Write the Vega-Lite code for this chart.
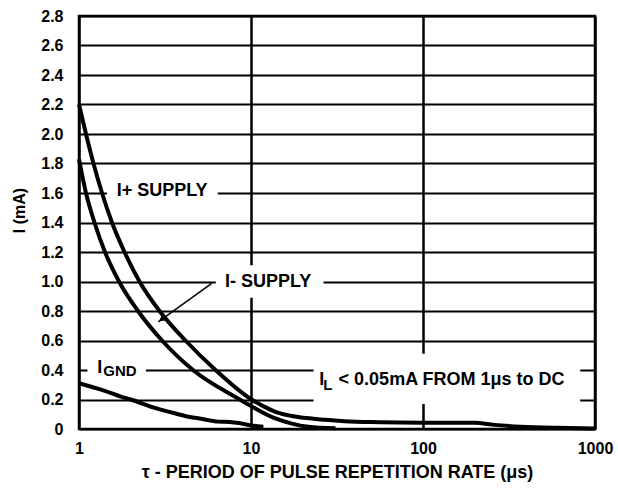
{
  "$schema": "https://vega.github.io/schema/vega-lite/v6.json",
  "width": 516,
  "height": 413,
  "autosize": {"type": "none"},
  "padding": {"left": 79, "top": 16, "right": 23, "bottom": 62},
  "background": "white",
  "config": {"view": {"stroke": "black", "strokeWidth": 2.5}, "font": "Liberation Sans"},
  "datasets": {
    "curves": [
      {"series": "I+", "x": 1, "y": 2.2},
      {"series": "I+", "x": 1.098, "y": 2.0},
      {"series": "I+", "x": 1.214, "y": 1.8},
      {"series": "I+", "x": 1.361, "y": 1.6},
      {"series": "I+", "x": 1.555, "y": 1.4},
      {"series": "I+", "x": 1.839, "y": 1.2},
      {"series": "I+", "x": 2.247, "y": 1.0},
      {"series": "I+", "x": 2.938, "y": 0.8},
      {"series": "I+", "x": 4.16, "y": 0.6},
      {"series": "I+", "x": 6.22, "y": 0.4},
      {"series": "I+", "x": 10.07, "y": 0.2},
      {"series": "I+", "x": 12, "y": 0.15},
      {"series": "I+", "x": 14, "y": 0.115},
      {"series": "I+", "x": 17, "y": 0.09},
      {"series": "I+", "x": 21, "y": 0.074},
      {"series": "I+", "x": 27, "y": 0.062},
      {"series": "I+", "x": 35, "y": 0.053},
      {"series": "I+", "x": 50, "y": 0.047},
      {"series": "I+", "x": 100, "y": 0.043},
      {"series": "I+", "x": 200, "y": 0.042},
      {"series": "I+", "x": 260, "y": 0.028},
      {"series": "I+", "x": 370, "y": 0.016},
      {"series": "I+", "x": 600, "y": 0.008},
      {"series": "I+", "x": 1000, "y": 0.004},
      {"series": "I-", "x": 1, "y": 1.83},
      {"series": "I-", "x": 1.098, "y": 1.6},
      {"series": "I-", "x": 1.23, "y": 1.4},
      {"series": "I-", "x": 1.416, "y": 1.2},
      {"series": "I-", "x": 1.709, "y": 1.0},
      {"series": "I-", "x": 2.203, "y": 0.8},
      {"series": "I-", "x": 3.038, "y": 0.6},
      {"series": "I-", "x": 4.6, "y": 0.4},
      {"series": "I-", "x": 8.6, "y": 0.2},
      {"series": "I-", "x": 10.2, "y": 0.15},
      {"series": "I-", "x": 13.6, "y": 0.075},
      {"series": "I-", "x": 17.5, "y": 0.035},
      {"series": "I-", "x": 21.5, "y": 0.016},
      {"series": "I-", "x": 31, "y": 0.005},
      {"series": "IGND", "x": 1, "y": 0.31},
      {"series": "IGND", "x": 1.4, "y": 0.26},
      {"series": "IGND", "x": 1.75, "y": 0.22},
      {"series": "IGND", "x": 2.0, "y": 0.2},
      {"series": "IGND", "x": 2.73, "y": 0.145},
      {"series": "IGND", "x": 3.5, "y": 0.11},
      {"series": "IGND", "x": 4.26, "y": 0.085},
      {"series": "IGND", "x": 5.2, "y": 0.068},
      {"series": "IGND", "x": 6.0, "y": 0.055},
      {"series": "IGND", "x": 6.5, "y": 0.05},
      {"series": "IGND", "x": 7.5, "y": 0.047},
      {"series": "IGND", "x": 8.5, "y": 0.04},
      {"series": "IGND", "x": 10, "y": 0.024},
      {"series": "IGND", "x": 11.8, "y": 0.015}
    ],
    "boxes": [
      {"x": 1.454, "x2": 6.41, "y": 1.5, "y2": 1.7},
      {"x": 6.24, "x2": 26.4, "y": 0.89, "y2": 1.11},
      {"x": 1.12, "x2": 2.45, "y": 0.32, "y2": 0.48},
      {"x": 23.1, "x2": 820, "y": 0.17, "y2": 0.51}
    ],
    "mainText": [
      {"x": 1.656, "y": 1.58, "text": "I+ SUPPLY"},
      {"x": 7.06, "y": 0.961, "text": "I- SUPPLY"},
      {"x": 1.277, "y": 0.378, "text": "I"},
      {"x": 24.9, "y": 0.298, "text": "I"},
      {"x": 32.3, "y": 0.298, "text": "< 0.05mA FROM 1μs to DC"}
    ],
    "subText": [
      {"x": 1.385, "y": 0.359, "text": "GND"},
      {"x": 26.3, "y": 0.264, "text": "L"}
    ],
    "arrow": [
      {"x": 5.91, "y": 0.988, "x2": 2.89, "y2": 0.727}
    ],
    "arrowHead": [
      {"x": 3.02, "y": 0.743}
    ]
  },
  "encoding": {
    "x": {
      "field": "x", "type": "quantitative",
      "scale": {"type": "log", "domain": [1, 1000], "nice": false},
      "axis": {
        "values": [1, 10, 100, 1000],
        "format": "d",
        "title": "τ - PERIOD OF PULSE REPETITION RATE (μs)",
        "grid": true, "gridColor": "black", "gridWidth": 2.5, "gridOpacity": 1,
        "domain": false, "ticks": false,
        "labelFont": "Liberation Sans", "labelFontWeight": "bold", "labelFontSize": 16,
        "labelColor": "black", "labelPadding": 11, "labelFlush": false, "labelOverlap": false,
        "titleFont": "Liberation Sans", "titleFontWeight": "bold", "titleFontSize": 18,
        "titleColor": "black", "titlePadding": 7
      }
    },
    "y": {
      "field": "y", "type": "quantitative",
      "scale": {"domain": [0, 2.8], "nice": false, "zero": false},
      "axis": {
        "values": [0, 0.2, 0.4, 0.6, 0.8, 1.0, 1.2, 1.4, 1.6, 1.8, 2.0, 2.2, 2.4, 2.6, 2.8],
        "labelExpr": "datum.value == 0 ? '0' : format(datum.value, '.1f')",
        "title": "I (mA)",
        "grid": true, "gridColor": "black", "gridWidth": 2.2, "gridOpacity": 1,
        "domain": false, "ticks": false,
        "labelFont": "Liberation Sans", "labelFontWeight": "bold", "labelFontSize": 16,
        "labelColor": "black", "labelPadding": 16, "labelFlush": false, "labelOverlap": false,
        "titleFont": "Liberation Sans", "titleFontWeight": "bold", "titleFontSize": 16,
        "titleColor": "black", "titlePadding": 13, "titleY": 194
      }
    }
  },
  "layer": [
    {
      "data": {"name": "boxes"},
      "mark": {"type": "rect", "fill": "white", "stroke": null},
      "encoding": {
        "x2": {"field": "x2"},
        "y2": {"field": "y2"}
      }
    },
    {
      "data": {"name": "curves"},
      "mark": {"type": "line", "color": "black", "strokeWidth": 4, "interpolate": "monotone"},
      "encoding": {
        "detail": {"field": "series"}
      }
    },
    {
      "data": {"name": "arrow"},
      "mark": {"type": "rule", "color": "black", "strokeWidth": 1.5},
      "encoding": {
        "x2": {"field": "x2"},
        "y2": {"field": "y2"}
      }
    },
    {
      "data": {"name": "arrowHead"},
      "mark": {"type": "point", "shape": "triangle-up", "filled": true, "color": "black", "size": 50, "angle": 234, "opacity": 1},
      "encoding": {}
    },
    {
      "data": {"name": "mainText"},
      "mark": {"type": "text", "align": "left", "baseline": "alphabetic", "font": "Liberation Sans", "fontWeight": "bold", "fontSize": 18, "color": "black"},
      "encoding": {
        "text": {"field": "text"}
      }
    },
    {
      "data": {"name": "subText"},
      "mark": {"type": "text", "align": "left", "baseline": "alphabetic", "font": "Liberation Sans", "fontWeight": "bold", "fontSize": 15, "color": "black"},
      "encoding": {
        "text": {"field": "text"}
      }
    }
  ]
}
